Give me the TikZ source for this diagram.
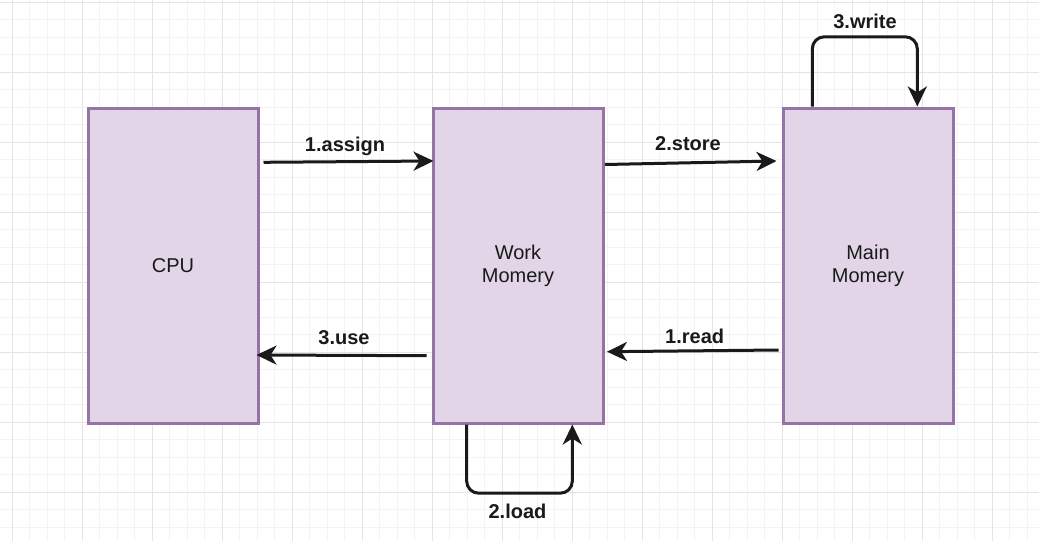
\documentclass[tikz,border=0pt]{standalone}
\usepackage{fontspec}
\setmainfont{Liberation Sans}
\usetikzlibrary{arrows.meta}
\definecolor{boxfill}{HTML}{E1D5E7}
\definecolor{boxline}{HTML}{9673A6}
\definecolor{ink}{HTML}{1A1A1A}
\definecolor{gridminor}{HTML}{F3F3F3}
\definecolor{gridmajor}{HTML}{E4E4E4}
\tikzset{
  membox/.style={draw=boxline, fill=boxfill, line width=3pt, minimum width=170pt, minimum height=315pt, inner sep=0pt, align=center, text=ink, font=\fontsize{20}{23}\selectfont},
  flow/.style={draw=ink, line width=3pt, -{Stealth[length=20pt,width=19pt,inset=6pt]}},
  lbl/.style={font=\fontsize{20}{23}\selectfont\bfseries, text=ink, anchor=base, inner sep=0pt}
}
\begin{document}
\begin{tikzpicture}[x=1pt,y=-1pt]
\useasboundingbox (0,0) rectangle (1039,541);
\fill[white] (0,0) rectangle (1039,541);
% grid
\foreach \i in {0,...,60} {
  \pgfmathsetmacro{\gx}{-5.2+17.5*\i}
  \draw[gridminor, line width=1pt] (\gx,0) -- (\gx,541);
}
\foreach \i in {0,...,31} {
  \pgfmathsetmacro{\gy}{2.3+17.5*\i}
  \draw[gridminor, line width=1pt] (0,\gy) -- (1039,\gy);
}
\foreach \i in {0,...,14} {
  \pgfmathsetmacro{\gx}{12.3+70*\i}
  \draw[gridmajor, line width=1pt] (\gx,0) -- (\gx,541);
}
\foreach \i in {0,...,7} {
  \pgfmathsetmacro{\gy}{2.3+70*\i}
  \draw[gridmajor, line width=1pt] (0,\gy) -- (1039,\gy);
}
% boxes
\node[membox] (cpu) at (173,265.5) {CPU};
\node[membox] (work) at (518,265.5) {Work\\Momery};
\node[membox] (main) at (868,265.5) {Main\\Momery};
% arrows
\draw[flow] ([xshift=4pt,yshift=103.2pt]cpu.east) -- ([xshift=2pt,yshift=104.5pt]work.west);
\draw[flow] ([xshift=0.5pt,yshift=101pt]work.east) -- ([xshift=-5pt,yshift=104.5pt]main.west);
\draw[flow] ([xshift=-5pt,yshift=-90.2pt]work.west) -- ([xshift=-3pt,yshift=-89.5pt]cpu.east);
\draw[flow] ([xshift=-3pt,yshift=-84.5pt]main.west) -- ([xshift=2.5pt,yshift=-86.2pt]work.east);
\draw[flow, rounded corners=12pt] ([xshift=-55.7pt]main.north) -- ++(0,-69.7) -- ++(105,0) -- ([xshift=49.3pt]main.north);
\draw[flow, rounded corners=12pt] ([xshift=-51.3pt]work.south) -- ++(0,68.7) -- ++(105.6,0) -- ([xshift=54.3pt]work.south);
% labels
\node[lbl] (lassign) at (345,151) {1.assign};
\node[lbl] (lstore) at (688,150.7) {2.store};
\node[lbl] (luse) at (344,344) {3.use};
\node[lbl] (lread) at (694.7,343.3) {1.read};
\node[lbl] (lwrite) at (865,28.3) {3.write};
\node[lbl] (lload) at (517.5,518.3) {2.load};
\end{tikzpicture}
\end{document}
